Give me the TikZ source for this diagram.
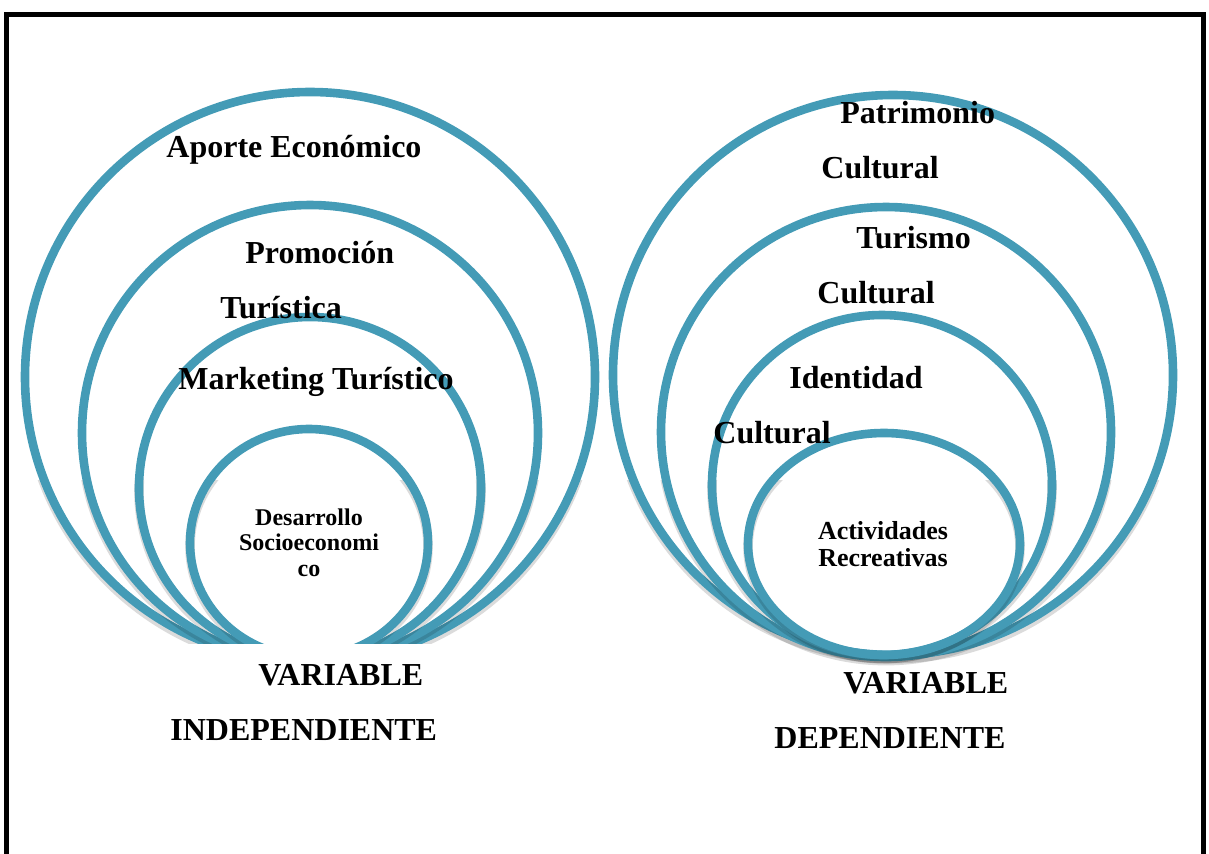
\documentclass[tikz,border=0pt]{standalone}
\usepackage{fontspec}
\setmainfont{Liberation Serif}
\usetikzlibrary{positioning}
\definecolor{ringblue}{RGB}{68,155,182}

\begin{document}
\begin{tikzpicture}[x=0.5pt,y=-0.5pt,
    ring/.style={draw=ringblue, line width=4.3pt},
    ringshade/.style={draw=black, opacity=0.14, line width=4.8pt, yshift=-1.8pt},
    biglabel/.style={font=\fontsize{16}{19}\selectfont\bfseries, inner sep=0pt, anchor=base west},
    smalllabel/.style={align=center, inner sep=0pt, anchor=north}]
    \clip (0,0) rectangle (1209,853);

    % Frame
    \draw[line width=2.5pt] (6,900) -- (6,14) -- (1203,14) -- (1203,900);

    % Independent variable
    \begin{scope}
        \clip (0,0) rectangle (620,643);
        \foreach \cy/\r in {377/285, 433/228, 488/171} {
            \begin{scope}
                \clip (0,480) rectangle (1209,853);
                \draw[ringshade] (310,\cy) circle (\r);
            \end{scope}
            \draw[ring] (310,\cy) circle (\r);
        }
        \begin{scope}
            \clip (0,480) rectangle (1209,853);
            \draw[ringshade] (309,543) ellipse [x radius=119, y radius=114];
        \end{scope}
        \draw[ring] (309,543) ellipse [x radius=119, y radius=114];
    \end{scope}

    % Dependent variable
    \foreach \cx/\cy/\r in {893/375/280, 886/432/225, 882/485/170} {
        \begin{scope}
            \clip (0,480) rectangle (1209,853);
            \draw[ringshade] (\cx,\cy) circle (\r);
        \end{scope}
        \draw[ring] (\cx,\cy) circle (\r);
    }
    \begin{scope}
        \clip (0,480) rectangle (1209,853);
        \draw[ringshade] (884,544) ellipse [x radius=136, y radius=111];
    \end{scope}
    \draw[ring] (884,544) ellipse [x radius=136, y radius=111];

    % Labels, left
    \node[biglabel] (aporte) at (166,157) {Aporte Económico};
    \node[biglabel] (promocion) at (245,263) {Promoción};
    \node[biglabel] (turistica) at (220,318) {Turística};
    \node[biglabel] (marketing) at (178,389) {Marketing Turístico};
    \node[smalllabel, font=\fontsize{12}{12.75}\selectfont\bfseries] (desarrollo) at (309,508) {Desarrollo\\Socioeconomi\\co};
    \node[biglabel] (varind) at (258,685) {VARIABLE};
    \node[biglabel] (indep) at (170,740) {INDEPENDIENTE};

    % Labels, right
    \node[biglabel] (patrimonio) at (840,123) {Patrimonio};
    \node[biglabel] (patcultural) at (821,178) {Cultural};
    \node[biglabel] (turismo) at (856,248) {Turismo};
    \node[biglabel] (turcultural) at (817,303) {Cultural};
    \node[biglabel] (identidad) at (789,388) {Identidad};
    \node[biglabel] (idcultural) at (713,443) {Cultural};
    \node[smalllabel, font=\fontsize{13}{13.5}\selectfont\bfseries] (actividades) at (883,521) {Actividades\\Recreativas};
    \node[biglabel] (vardep) at (843,693) {VARIABLE};
    \node[biglabel] (dep) at (774,748) {DEPENDIENTE};
\end{tikzpicture}
\end{document}
